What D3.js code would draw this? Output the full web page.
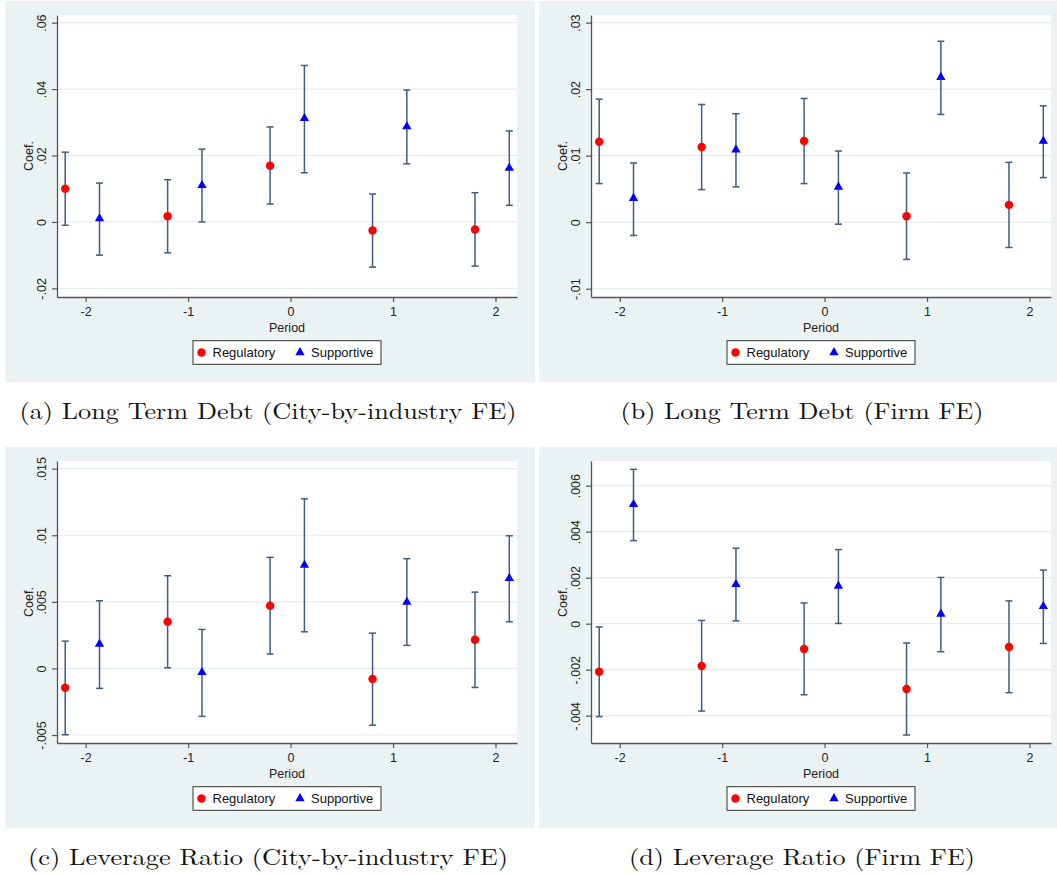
<!DOCTYPE html>
<html>
<head>
<meta charset="utf-8">
<script src="https://cdn.jsdelivr.net/npm/d3@7"></script>
<style>
  body { margin: 0; background: #fff; }
  svg { display: block; }
</style>
</head>
<body>
<svg id="fig" width="1057" height="875"></svg>
<script>
// event-time periods on the x axis
const periods = [-2, -1, 0, 1, 2];
const seriesNames = ['Regulatory', 'Supportive'];

// (a) Long Term Debt, city-by-industry FE
const aRegCoef = [0.0100, 0.0017, 0.0169, -0.0026, -0.0023];
const aRegLo   = [-0.0010, -0.0093, 0.0054, -0.0136, -0.0133];
const aRegHi   = [0.0210, 0.0127, 0.0286, 0.0084, 0.0088];
const aSupCoef = [0.0010, 0.0110, 0.0312, 0.0287, 0.0162];
const aSupLo   = [-0.0100, 0.0000, 0.0148, 0.0175, 0.0050];
const aSupHi   = [0.0117, 0.0219, 0.0471, 0.0397, 0.0274];
const aTicks   = [-0.02, 0, 0.02, 0.04, 0.06];

// (b) Long Term Debt, firm FE
const bRegCoef = [0.0121, 0.0113, 0.0122, 0.0009, 0.0026];
const bRegLo   = [0.0058, 0.0049, 0.0058, -0.0056, -0.0038];
const bRegHi   = [0.0185, 0.0177, 0.0186, 0.0074, 0.0090];
const bSupCoef = [0.0036, 0.0109, 0.0053, 0.0218, 0.0122];
const bSupLo   = [-0.0020, 0.0053, -0.0003, 0.0162, 0.0067];
const bSupHi   = [0.0089, 0.0163, 0.0107, 0.0272, 0.0175];
const bTicks   = [-0.01, 0, 0.01, 0.02, 0.03];

// (c) Leverage Ratio, city-by-industry FE
const cRegCoef = [-0.00145, 0.0035, 0.0047, -0.0008, 0.00215];
const cRegLo   = [-0.00498, 0.00005, 0.00108, -0.00426, -0.00143];
const cRegHi   = [0.00205, 0.00696, 0.00834, 0.00265, 0.00573];
const cSupCoef = [0.00183, -0.0003, 0.00776, 0.00498, 0.00676];
const cSupLo   = [-0.0015, -0.0036, 0.00275, 0.00173, 0.0035];
const cSupHi   = [0.00508, 0.00293, 0.01274, 0.00824, 0.00996];
const cTicks   = [-0.005, 0, 0.005, 0.01, 0.015];

// (d) Leverage Ratio, firm FE
const dRegCoef = [-0.00209, -0.00184, -0.0011, -0.00284, -0.00101];
const dRegLo   = [-0.00404, -0.0038, -0.00309, -0.00484, -0.0030];
const dRegHi   = [-0.00014, 0.00014, 0.0009, -0.00084, 0.00099];
const dSupCoef = [0.00519, 0.00171, 0.00164, 0.00042, 0.00075];
const dSupLo   = [0.00361, 0.00012, 0.00001, -0.00122, -0.00086];
const dSupHi   = [0.00671, 0.00328, 0.00322, 0.00201, 0.00233];
const dTicks   = [-0.004, -0.002, 0, 0.002, 0.004, 0.006];

// style
const BG = '#EAF2F3';
const GRID = '#E3ECEF';
const AXIS = '#555';
const BAR = '#3F5D7D';
const RED = '#FF0000';
const BLUE = '#0000FF';
const FONT = '"Liberation Sans", Arial, sans-serif';
const SERIF = '"Latin Modern Roman", "CMU Serif", "Liberation Serif", serif';

// Stata-style offsets of the two series around each period
const offsets = [-0.2, 0.135];
const xDomain = [-2.28, 2.21];

const panels = [
  { x: 5, y: 1, yDomain: [-0.0226, 0.0623], ticks: aTicks,
    series: [[aRegCoef, aRegLo, aRegHi], [aSupCoef, aSupLo, aSupHi]],
    caption: '(a) Long Term Debt (City-by-industry FE)', capLen: 497, capY: 419 },
  { x: 539, y: 1, yDomain: [-0.01125, 0.03115], ticks: bTicks,
    series: [[bRegCoef, bRegLo, bRegHi], [bSupCoef, bSupLo, bSupHi]],
    caption: '(b) Long Term Debt (Firm FE)', capLen: 363, capY: 419 },
  { x: 5, y: 447, yDomain: [-0.0056, 0.015576], ticks: cTicks,
    series: [[cRegCoef, cRegLo, cRegHi], [cSupCoef, cSupLo, cSupHi]],
    caption: '(c) Leverage Ratio (City-by-industry FE)', capLen: 480, capY: 865 },
  { x: 539, y: 447, yDomain: [-0.005188, 0.007072], ticks: dTicks,
    series: [[dRegCoef, dRegLo, dRegHi], [dSupCoef, dSupLo, dSupHi]],
    caption: '(d) Leverage Ratio (Firm FE)', capLen: 346, capY: 865 }
];

const svg = d3.select('#fig');

// ".02" style labels, no leading zero
const fmt = v => v === 0 ? '0' : String(v).replace('0.', '.');

const circle = d3.symbol().type(d3.symbolCircle).size(56);
const triangle = d3.symbol().type(d3.symbolTriangle).size(38);

function drawPanel(p) {
  const g = svg.append('g').attr('transform', `translate(${p.x},${p.y})`);

  // graph region
  g.append('rect')
    .attr('width', 530).attr('height', 381)
    .attr('fill', BG);

  const x = d3.scaleLinear().domain(xDomain).range([52, 512]);
  const y = d3.scaleLinear().domain(p.yDomain).range([296, 14]);

  // plot region
  g.append('rect')
    .attr('x', 52).attr('y', 14)
    .attr('width', 460).attr('height', 282)
    .attr('fill', '#fff');

  // grid
  g.append('g').selectAll('line')
    .data(p.ticks)
    .join('line')
    .attr('x1', 53).attr('x2', 512)
    .attr('y1', d => y(d)).attr('y2', d => y(d))
    .attr('stroke', GRID).attr('stroke-width', 1.2);

  // y axis
  const yAxis = g.append('g')
    .attr('transform', 'translate(52,0)')
    .call(d3.axisLeft(y).tickValues(p.ticks).tickFormat(fmt).tickSize(5).tickSizeOuter(0));
  yAxis.selectAll('text')
    .attr('x', 0).attr('dy', 0)
    .attr('transform', 'translate(-11,0) rotate(-90)')
    .attr('text-anchor', 'middle');

  // x axis
  const xAxis = g.append('g')
    .attr('transform', 'translate(0,296)')
    .call(d3.axisBottom(x).tickValues(periods).tickFormat(d => String(d)).tickSize(5).tickPadding(5).tickSizeOuter(0));

  [yAxis, xAxis].forEach(ax => {
    ax.select('.domain').attr('stroke', AXIS).attr('stroke-width', 1.3);
    ax.selectAll('.tick line').attr('stroke', AXIS).attr('stroke-width', 1.2);
    ax.selectAll('text')
      .attr('fill', '#222')
      .style('font-family', FONT)
      .style('font-size', '12.5px');
  });

  // axis titles
  g.append('text')
    .attr('transform', `translate(27.5,155) rotate(-90)`)
    .attr('text-anchor', 'middle')
    .style('font-family', FONT).style('font-size', '12.5px').attr('fill', '#222')
    .text('Coef.');
  g.append('text')
    .attr('x', 282).attr('y', 330.5)
    .attr('text-anchor', 'middle')
    .style('font-family', FONT).style('font-size', '12.5px').attr('fill', '#222')
    .text('Period');

  // confidence intervals + point estimates
  p.series.forEach(([coef, lo, hi], s) => {
    const rows = periods.map((t, i) => ({ t: t + offsets[s], coef: coef[i], lo: lo[i], hi: hi[i] }));
    const bars = g.append('g').attr('stroke', BAR).attr('stroke-width', 1.5).attr('fill', 'none');
    bars.selectAll('line.v').data(rows).join('line').attr('class', 'v')
      .attr('x1', d => x(d.t)).attr('x2', d => x(d.t))
      .attr('y1', d => y(d.lo)).attr('y2', d => y(d.hi));
    bars.selectAll('line.hi').data(rows).join('line').attr('class', 'hi')
      .attr('x1', d => x(d.t) - 3.5).attr('x2', d => x(d.t) + 3.5)
      .attr('y1', d => y(d.hi)).attr('y2', d => y(d.hi));
    bars.selectAll('line.lo').data(rows).join('line').attr('class', 'lo')
      .attr('x1', d => x(d.t) - 3.5).attr('x2', d => x(d.t) + 3.5)
      .attr('y1', d => y(d.lo)).attr('y2', d => y(d.lo));

    g.append('g').selectAll('path').data(rows).join('path')
      .attr('transform', d => `translate(${x(d.t)},${y(d.coef)})`)
      .attr('d', s === 0 ? circle() : triangle())
      .attr('fill', s === 0 ? RED : BLUE);
  });

  // legend
  const lg = g.append('g').attr('transform', 'translate(188,339.7)');
  lg.append('rect')
    .attr('width', 188).attr('height', 23.6)
    .attr('fill', '#fff').attr('stroke', '#333').attr('stroke-width', 1);
  const items = [{ mx: 8.5, tx: 19.5 }, { mx: 107, tx: 118 }];
  items.forEach((it, s) => {
    lg.append('path')
      .attr('transform', `translate(${it.mx},11.8)`)
      .attr('d', s === 0 ? circle() : triangle())
      .attr('fill', s === 0 ? RED : BLUE);
    lg.append('text')
      .attr('x', it.tx).attr('y', 16.5)
      .style('font-family', FONT).style('font-size', '13px').attr('fill', '#111')
      .text(seriesNames[s]);
  });

  // sub-figure caption
  svg.append('text')
    .attr('x', p.x + 263).attr('y', p.capY)
    .attr('text-anchor', 'middle')
    .attr('textLength', p.capLen).attr('lengthAdjust', 'spacingAndGlyphs')
    .style('font-family', SERIF).style('font-size', '23px').attr('fill', '#111')
    .text(p.caption);
}

panels.forEach(drawPanel);
</script>
</body>
</html>
